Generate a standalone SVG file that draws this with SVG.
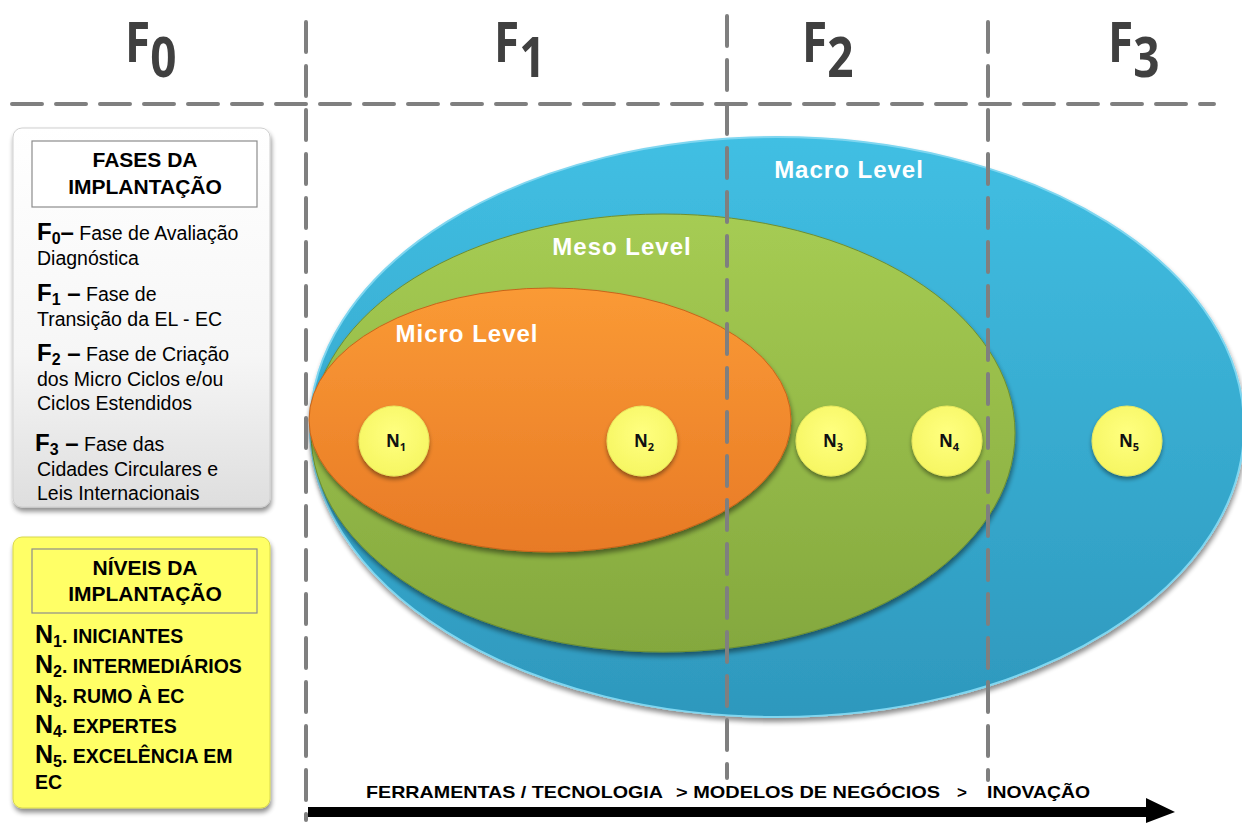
<svg xmlns="http://www.w3.org/2000/svg" width="1242" height="823" viewBox="0 0 1242 823">
<defs>
<style>
.dash{stroke:#7f7f7f;stroke-width:4;stroke-dasharray:30 14;stroke-linecap:round;fill:none}
.ftitle{font-family:"Open Sans","Noto Sans",sans-serif;font-weight:bold;font-size:56px;fill:#404040}
.lvl{font-family:"Liberation Sans",Arial,sans-serif;font-weight:bold;font-size:24px;fill:#ffffff}
.nlab{font-family:"Open Sans","Noto Sans",sans-serif;font-weight:bold;font-size:17px;fill:#111}
.nsub{font-size:11px}
.hdr{font-family:"Liberation Sans",Arial,sans-serif;font-weight:bold;font-size:21px;fill:#000;text-anchor:middle}
.ph{font-family:"Liberation Sans",Arial,sans-serif;font-size:19.5px;fill:#000}
.phb{font-weight:bold;font-size:24px}
.phs{font-weight:bold;font-size:16px}
.nv{font-family:"Liberation Sans",Arial,sans-serif;font-weight:bold;font-size:19.5px;fill:#000}
.nvb{font-size:25px}
.nvs{font-size:16px}
.axis{font-family:"Liberation Sans",Arial,sans-serif;font-weight:bold;font-size:17px;fill:#000}
.circ{fill:url(#gYel);stroke:#e8e860;stroke-width:1}
</style>
<linearGradient id="gBlue" x1="0" y1="0" x2="0" y2="1">
<stop offset="0" stop-color="#41bfe3"/><stop offset="1" stop-color="#2e98bd"/>
</linearGradient>
<linearGradient id="gGreen" x1="0" y1="0" x2="0" y2="1">
<stop offset="0" stop-color="#a6cc53"/><stop offset="1" stop-color="#84a83e"/>
</linearGradient>
<linearGradient id="gOrange" x1="0" y1="0" x2="0" y2="1">
<stop offset="0" stop-color="#fa9a35"/><stop offset="1" stop-color="#e87a26"/>
</linearGradient>
<radialGradient id="gYel" cx="0.5" cy="0.4" r="0.6">
<stop offset="0" stop-color="#ffff80"/><stop offset="1" stop-color="#f6f662"/>
</radialGradient>
<linearGradient id="gGray" x1="0" y1="0" x2="0" y2="1">
<stop offset="0" stop-color="#ffffff"/><stop offset="0.6" stop-color="#f6f6f6"/><stop offset="1" stop-color="#dedede"/>
</linearGradient>
<filter id="sh" x="-10%" y="-10%" width="120%" height="125%">
<feGaussianBlur in="SourceAlpha" stdDeviation="2.5"/>
<feOffset dx="1" dy="4" result="o"/>
<feComponentTransfer><feFuncA type="linear" slope="0.45"/></feComponentTransfer>
<feMerge><feMergeNode/><feMergeNode in="SourceGraphic"/></feMerge>
</filter>
<filter id="shs" x="-20%" y="-20%" width="140%" height="150%">
<feGaussianBlur in="SourceAlpha" stdDeviation="2"/>
<feOffset dx="0" dy="3" result="o"/>
<feComponentTransfer><feFuncA type="linear" slope="0.4"/></feComponentTransfer>
<feMerge><feMergeNode/><feMergeNode in="SourceGraphic"/></feMerge>
</filter>
</defs>
<rect width="1242" height="823" fill="#ffffff"/>

<g id="macro">
<ellipse cx="777" cy="427" rx="467" ry="290" fill="url(#gBlue)" stroke="#7fd6f0" stroke-width="2" filter="url(#sh)"/>
<text class="lvl" x="849" y="178" text-anchor="middle" letter-spacing="1">Macro Level</text>
</g>
<g id="meso">
<ellipse cx="663" cy="433" rx="352" ry="219" fill="url(#gGreen)" stroke="#6f8f30" stroke-width="1" filter="url(#sh)"/>
<text class="lvl" x="622" y="255" text-anchor="middle" letter-spacing="1">Meso Level</text>
</g>
<g id="micro">
<ellipse cx="550" cy="420" rx="241" ry="132" fill="url(#gOrange)" stroke="#c8641a" stroke-width="1" filter="url(#sh)"/>
<text class="lvl" x="467" y="342" text-anchor="middle" letter-spacing="1">Micro Level</text>
</g>

<g id="grid">
<line class="dash" x1="12" y1="104" x2="1214" y2="104"/>
<line class="dash" x1="306" y1="22" x2="306" y2="820"/>
<line class="dash" x1="727" y1="16" x2="727" y2="778"/>
<line class="dash" x1="988" y1="22" x2="988" y2="780"/>
</g>

<g id="phase-titles">
<text class="ftitle" transform="translate(125,62) scale(0.82,1)">F<tspan dy="15">0</tspan></text>
<text class="ftitle" transform="translate(494,62) scale(0.82,1)">F<tspan dy="15">1</tspan></text>
<text class="ftitle" transform="translate(802,62) scale(0.82,1)">F<tspan dy="15">2</tspan></text>
<text class="ftitle" transform="translate(1108,62) scale(0.82,1)">F<tspan dy="15">3</tspan></text>
</g>

<g id="n1"><circle class="circ" cx="394" cy="441" r="35" filter="url(#shs)"/><text class="nlab" x="396" y="447" text-anchor="middle">N<tspan class="nsub" dy="4">1</tspan></text></g>
<g id="n2"><circle class="circ" cx="642" cy="441" r="35" filter="url(#shs)"/><text class="nlab" x="644" y="447" text-anchor="middle">N<tspan class="nsub" dy="4">2</tspan></text></g>
<g id="n3"><circle class="circ" cx="831" cy="441" r="35" filter="url(#shs)"/><text class="nlab" x="833" y="447" text-anchor="middle">N<tspan class="nsub" dy="4">3</tspan></text></g>
<g id="n4"><circle class="circ" cx="947" cy="441" r="35" filter="url(#shs)"/><text class="nlab" x="949" y="447" text-anchor="middle">N<tspan class="nsub" dy="4">4</tspan></text></g>
<g id="n5"><circle class="circ" cx="1127" cy="441" r="35" filter="url(#shs)"/><text class="nlab" x="1129" y="447" text-anchor="middle">N<tspan class="nsub" dy="4">5</tspan></text></g>

<g id="fases-box">
<rect x="13" y="128" width="257" height="379" rx="9" fill="url(#gGray)" stroke="#cfcfcf" stroke-width="1" filter="url(#sh)"/>
<rect x="32" y="141" width="225" height="66" fill="#ffffff" stroke="#8c8c8c" stroke-width="1.2"/>
<text class="hdr" x="145" y="167">FASES DA</text>
<text class="hdr" x="145" y="194">IMPLANTAÇÃO</text>
<text class="ph" x="37" y="240"><tspan class="phb">F</tspan><tspan class="phs" dy="4">0</tspan><tspan class="phb" dy="-4">–</tspan> Fase de Avaliação</text>
<text class="ph" x="37" y="265">Diagnóstica</text>
<text class="ph" x="37" y="301"><tspan class="phb">F</tspan><tspan class="phs" dy="4">1</tspan><tspan class="phb" dy="-4"> –</tspan> Fase de</text>
<text class="ph" x="37" y="326">Transição da EL - EC</text>
<text class="ph" x="37" y="361"><tspan class="phb">F</tspan><tspan class="phs" dy="4">2</tspan><tspan class="phb" dy="-4"> –</tspan> Fase de Criação</text>
<text class="ph" x="37" y="386">dos Micro Ciclos e/ou</text>
<text class="ph" x="37" y="410">Ciclos Estendidos</text>
<text class="ph" x="35" y="451"><tspan class="phb">F</tspan><tspan class="phs" dy="4">3</tspan><tspan class="phb" dy="-4"> –</tspan>  Fase das</text>
<text class="ph" x="37" y="476">Cidades Circulares e</text>
<text class="ph" x="37" y="500">Leis Internacionais</text>
</g>

<g id="niveis-box">
<rect x="13" y="537" width="257" height="271" rx="9" fill="#ffff66" stroke="#d8d84a" stroke-width="1" filter="url(#sh)"/>
<rect x="32" y="549" width="225" height="64" fill="none" stroke="#8c8c8c" stroke-width="1.2"/>
<text class="hdr" x="145" y="575">NÍVEIS DA</text>
<text class="hdr" x="145" y="601">IMPLANTAÇÃO</text>
<text class="nv" x="35" y="643"><tspan class="nvb">N</tspan><tspan class="nvs" dy="4">1</tspan><tspan dy="-4">. INICIANTES</tspan></text>
<text class="nv" x="35" y="673"><tspan class="nvb">N</tspan><tspan class="nvs" dy="4">2</tspan><tspan dy="-4">. INTERMEDIÁRIOS</tspan></text>
<text class="nv" x="35" y="703"><tspan class="nvb">N</tspan><tspan class="nvs" dy="4">3</tspan><tspan dy="-4">. RUMO À EC</tspan></text>
<text class="nv" x="35" y="733"><tspan class="nvb">N</tspan><tspan class="nvs" dy="4">4</tspan><tspan dy="-4">. EXPERTES</tspan></text>
<text class="nv" x="35" y="763"><tspan class="nvb">N</tspan><tspan class="nvs" dy="4">5</tspan><tspan dy="-4">. EXCELÊNCIA EM</tspan></text>
<text class="nv" x="35" y="789">EC</text>
</g>

<g id="connectors">
<polygon points="308,807 1146,807 1146,798 1175,812 1146,823 1146,817 308,817" fill="#000000"/>
<text class="axis" x="366" y="798" textLength="297" lengthAdjust="spacingAndGlyphs">FERRAMENTAS / TECNOLOGIA</text>
<text class="axis" x="676" y="798" textLength="264" lengthAdjust="spacingAndGlyphs">&gt; MODELOS DE NEGÓCIOS</text>
<text class="axis" x="957" y="798">&gt;</text>
<text class="axis" x="987" y="798" textLength="103" lengthAdjust="spacingAndGlyphs">INOVAÇÃO</text>
</g>
</svg>
